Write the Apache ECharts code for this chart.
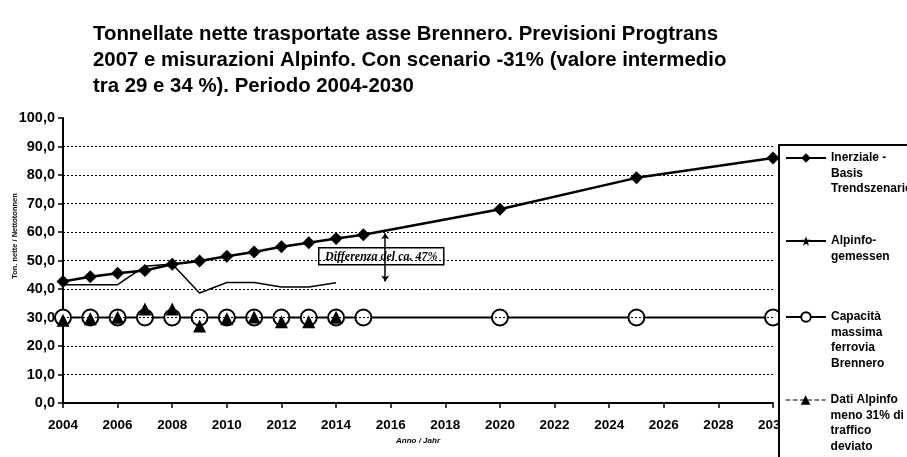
<!DOCTYPE html>
<html>
<head>
<meta charset="utf-8">
<script src="https://cdn.jsdelivr.net/npm/echarts@6/dist/echarts.min.js"></script>
<style>html,body{margin:0;padding:0;background:#fff}#c{width:907px;height:457px}</style>
</head>
<body>
<div id="c"></div>
<script>
// ---- Data ----
const titleText = 'Tonnellate nette trasportate asse Brennero. Previsioni Progtrans\n2007 e misurazioni Alpinfo. Con scenario -31% (valore intermedio\ntra 29 e 34 %). Periodo 2004-2030';
const yAxisTitle = 'Ton. nette / Nettotonnen';
const xAxisTitle = 'Anno / Jahr';
const annotationText = 'Differenza del ca. 47%';

const seriesNames = [
  'Inerziale -\nBasis\nTrendszenario',
  'Alpinfo-\ngemessen',
  'Capacità\nmassima\nferrovia\nBrennero',
  'Dati Alpinfo\nmeno 31% di\ntraffico\ndeviato'
];

const inerzialeYears  = [2004, 2005, 2006, 2007, 2008, 2009, 2010, 2011, 2012, 2013, 2014, 2015, 2020, 2025, 2030];
const inerzialeValues = [42.6, 44.3, 45.5, 46.5, 48.7, 49.8, 51.5, 53.0, 54.8, 56.2, 57.7, 59.0, 68.0, 79.0, 86.0];

const alpinfoYears  = [2004, 2005, 2006, 2007, 2008, 2009, 2010, 2011, 2012, 2013, 2014];
const alpinfoValues = [41.5, 41.5, 41.5, 48.0, 48.8, 38.6, 42.3, 42.3, 40.7, 40.7, 42.2];

const capacitaYears  = [2004, 2005, 2006, 2007, 2008, 2009, 2010, 2011, 2012, 2013, 2014, 2015, 2020, 2025, 2030];
const capacitaValues = [30, 30, 30, 30, 30, 30, 30, 30, 30, 30, 30, 30, 30, 30, 30];

const datiYears  = [2004, 2005, 2006, 2007, 2008, 2009, 2010, 2011, 2012, 2013, 2014];
const datiValues = [29.0, 29.6, 30.1, 33.0, 33.0, 27.0, 29.6, 30.2, 28.5, 28.5, 30.1];

const gridValues = [10, 20, 30, 40, 50, 60, 70, 80, 90];
const arrowYear = 2015.8, arrowTop = 59.6, arrowBottom = 42.6;

const pairs = (xs, ys) => xs.map((x, i) => [x, ys[i]]);

const FONT = 'Liberation Sans, Arial, sans-serif';
const STAR = 'path://M0,-5L1.2,-1.6L4.8,-1.6L1.9,0.6L3,4L0,2L-3,4L-1.9,0.6L-4.8,-1.6L-1.2,-1.6Z';
const chart = echarts.init(document.getElementById('c'));

function legendFor(i, centerY, extra) {
  const n = seriesNames[i].split('\n').length;
  const lh = 15.5;
  return Object.assign({
    data: [seriesNames[i]],
    orient: 'vertical',
    left: 785,
    top: centerY - (2 * n - 1) * lh / 2,
    padding: 0,
    itemWidth: 40,
    itemHeight: 12,
    itemGap: 0,
    selectedMode: false,
    formatter: name => '\n'.repeat(n - 1) + name,
    textStyle: { fontFamily: FONT, fontSize: 12, fontWeight: 'bold', color: '#000', lineHeight: lh }
  }, extra || {});
}

chart.setOption({
  animation: false,
  backgroundColor: '#fff',
  title: {
    text: titleText,
    left: 93, top: 21, padding: 0,
    textStyle: { fontFamily: FONT, fontSize: 20.4, fontWeight: 'bold', color: '#000', lineHeight: 26 }
  },
  grid: { left: 63, right: 134, top: 118, bottom: 54, containLabel: false },
  xAxis: {
    type: 'value', min: 2004, max: 2030, interval: 2,
    name: xAxisTitle, nameLocation: 'middle', nameGap: 26,
    nameTextStyle: { fontFamily: FONT, fontSize: 8, fontWeight: 'bold', fontStyle: 'italic', color: '#000' },
    axisLine: { show: true, lineStyle: { color: '#000', width: 2 } },
    axisTick: { show: true, length: 5, lineStyle: { color: '#000', width: 1.5 } },
    axisLabel: { fontFamily: FONT, fontSize: 13.5, fontWeight: 'bold', color: '#000', margin: 15, formatter: v => String(v) },
    splitLine: { show: false }
  },
  yAxis: {
    type: 'value', min: 0, max: 100, interval: 10,
    axisLine: { show: true, lineStyle: { color: '#000', width: 2 } },
    axisTick: { show: true, length: 5, lineStyle: { color: '#000', width: 1.5 } },
    axisLabel: { fontFamily: FONT, fontSize: 14.5, fontWeight: 'bold', color: '#000', margin: 8, formatter: v => v.toFixed(1).replace('.', ',') },
    splitLine: { show: false }
  },
  legend: [
    legendFor(0, 158),
    legendFor(1, 241),
    legendFor(2, 317),
    legendFor(3, 400, { lineStyle: { opacity: 1, type: 'dashed', color: '#000', width: 1.2 } })
  ],
  graphic: [
    { type: 'rect', shape: { x: 779, y: 145, width: 140, height: 330 }, style: { fill: '#fff', stroke: '#000', lineWidth: 2 }, z: 3 },
    { type: 'text', x: 15, y: 236, rotation: Math.PI / 2, style: { text: yAxisTitle, fontFamily: FONT, fontSize: 7.5, fontWeight: 'bold', fill: '#000', align: 'center', verticalAlign: 'middle' }, z: 5 },
    { type: 'group', left: 318, top: 247, z: 6, children: [
      { type: 'rect', shape: { x: 0, y: 0, width: 125, height: 17 }, style: { fill: '#fff', stroke: '#000', lineWidth: 1.5 } },
      { type: 'text', x: 62.5, y: 9, style: { text: annotationText, fontFamily: 'Liberation Serif, Times New Roman, serif', fontSize: 12, fontStyle: 'italic', fontWeight: 'bold', fill: '#000', align: 'center', verticalAlign: 'middle' } }
    ]}
  ],
  series: [
    {
      name: 'grid', type: 'line', data: [], silent: true,
      markLine: {
        silent: true, symbol: 'none', label: { show: false },
        lineStyle: { color: '#000', type: [2, 2], width: 1 },
        data: gridValues.map(v => ({ yAxis: v }))
      }
    },
    {
      name: 'arrow', type: 'line', data: [], silent: true,
      markLine: {
        silent: true, symbol: ['arrow', 'arrow'], symbolSize: 6, label: { show: false },
        lineStyle: { color: '#000', type: 'solid', width: 1.5 },
        data: [[{ coord: [arrowYear, arrowTop] }, { coord: [arrowYear, arrowBottom] }]]
      }
    },
    {
      name: seriesNames[2], type: 'line', data: pairs(capacitaYears, capacitaValues),
      symbol: 'circle', symbolSize: 16,
      itemStyle: { color: '#fff', borderColor: '#000', borderWidth: 2 },
      lineStyle: { color: '#000', width: 2 }, z: 2
    },
    {
      name: seriesNames[3], type: 'line', data: pairs(datiYears, datiValues),
      symbol: 'triangle', symbolSize: 13,
      itemStyle: { color: '#000' },
      lineStyle: { color: '#000', width: 1, type: 'dashed', opacity: 0 }, z: 3
    },
    {
      name: seriesNames[1], type: 'line', data: pairs(alpinfoYears, alpinfoValues),
      symbol: STAR, symbolSize: 8, showSymbol: false,
      itemStyle: { color: '#000' },
      lineStyle: { color: '#000', width: 1.5 }, z: 3
    },
    {
      name: seriesNames[0], type: 'line', data: pairs(inerzialeYears, inerzialeValues),
      symbol: 'diamond', symbolSize: 13,
      itemStyle: { color: '#000' },
      lineStyle: { color: '#000', width: 2.5 }, z: 4
    }
  ]
});
</script>
</body>
</html>
